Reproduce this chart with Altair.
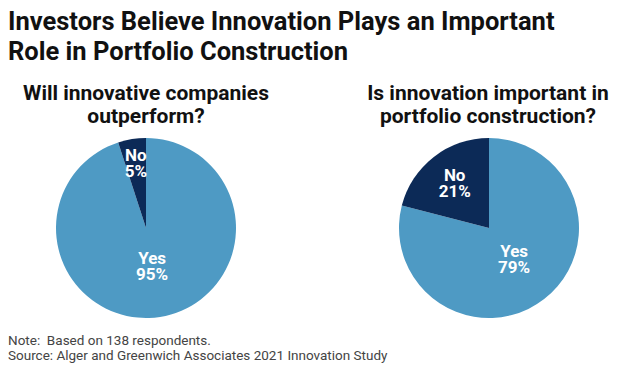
import altair as alt
import pandas as pd

# ---- data ----
title_lines = ["Investors Believe Innovation Plays an Important", "Role in Portfolio Construction"]
q1 = ["Will innovative companies", "outperform?"]
q2 = ["Is innovation important in", "portfolio construction?"]
answers = ["Yes", "No"]
pie1_values = [95, 5]
pie2_values = [79, 21]
notes = ["Note:\u00a0 Based on 138 respondents.", "Source: Alger and Greenwich Associates 2021 Innovation Study"]

LIGHT = "#4e9ac4"
NAVY = "#0c2a57"
FONT = "Roboto"

W, H = 635, 375


def pie(values, cx, cy, r, no_r, yes_r):
    df = pd.DataFrame({
        "answer": answers,
        "value": values,
        "order": [1, 2],
        "label": [f"{a}\n{v}%" for a, v in zip(answers, values)],
    })
    arc = alt.Chart(df).mark_arc(outerRadius=r).encode(
        theta=alt.Theta("value:Q", stack=True),
        order=alt.Order("order:Q"),
        x=alt.value(cx), y=alt.value(cy),
        color=alt.Color("answer:N", scale=alt.Scale(domain=answers, range=[LIGHT, NAVY]), legend=None),
    )
    txt = alt.Chart(df).transform_window(
        cum="sum(value)", sort=[alt.SortField("order")]
    ).transform_joinaggregate(
        total="sum(value)"
    ).transform_calculate(
        mid="(datum.cum - datum.value / 2) / datum.total",
        lr=f"datum.answer == 'No' ? {no_r} : {yes_r}",
    ).mark_text(font=FONT, fontSize=17, fontWeight="bold", color="white",
                lineBreak="\n", baseline="middle", align="center", lineHeight=16, dy=-8).encode(
        theta=alt.Theta("mid:Q", stack=None, scale=alt.Scale(domain=[0, 1])),
        x=alt.value(cx), y=alt.value(cy),
        radius=alt.Radius("lr:Q", scale=None),
        text="label:N",
    )
    return [arc, txt]


def text_layer(lines, x, y, size, weight, color, align, line_height):
    df = pd.DataFrame({"t": ["\n".join(lines)]})
    return alt.Chart(df).mark_text(
        font=FONT, fontSize=size, fontWeight=weight, color=color, align=align,
        baseline="alphabetic", lineBreak="\n", lineHeight=line_height,
    ).encode(x=alt.value(x), y=alt.value(y), text="t:N")


layers = []
layers.append(text_layer(title_lines, 8, 30, 25.5, "bold", "#111111", "left", 30))
layers.append(text_layer(q1, 146, 100, 21, "bold", "#111111", "center", 23))
layers.append(text_layer(q2, 488, 100, 21, "bold", "#111111", "center", 23))
layers += pie(pie1_values, 146, 228, 90, 65, 39)
layers += pie(pie2_values, 489, 228, 90, 56, 41)
layers.append(text_layer(notes, 8, 345, 13.5, "normal", "#444444", "left", 15))

chart = alt.layer(*layers).resolve_scale(theta="independent").properties(
    width=W, height=H, padding=0,
    autosize=alt.AutoSizeParams(type="none"),
    background="white",
).configure_view(stroke=None)

chart.save("out.html", embed_options={"renderer": "svg", "actions": False})
